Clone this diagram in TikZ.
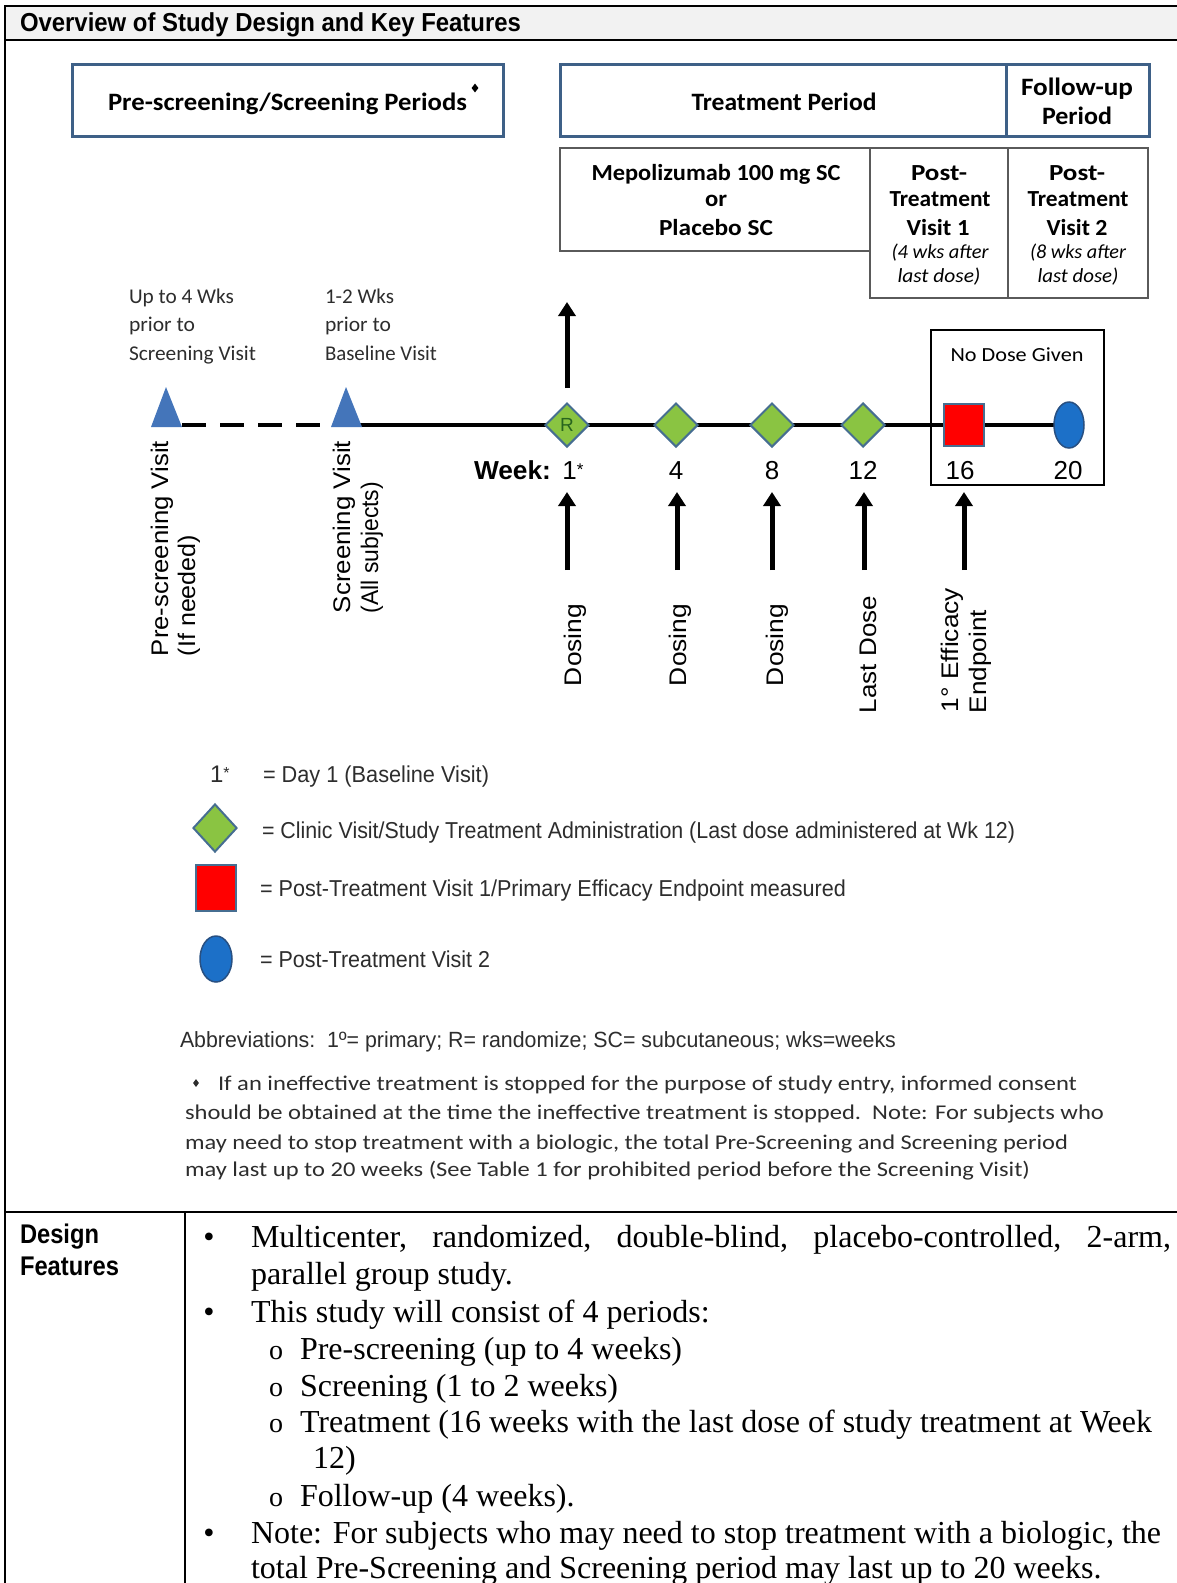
\documentclass[tikz,border=0pt]{standalone}
\usepackage{fontspec}
\usepackage{graphicx}
\usetikzlibrary{shapes.geometric,arrows.meta}
\setmainfont{Liberation Serif}
\newfontfamily\fA{Liberation Sans}
\newfontfamily\fC{Carlito}
\newfontfamily\fT{Liberation Serif}
\newcommand\fs[1]{\fontsize{#1}{#1}\selectfont}
\newsavebox\fitbox
\newlength\fitlen
\newcommand\fitw[2]{\sbox\fitbox{#2}\setlength\fitlen{\wd\fitbox}\pgfmathsetmacro\fitfac{#1/\fitlen}\scalebox{\fitfac}[1]{\usebox\fitbox}}
\definecolor{boxblue}{RGB}{62,96,135}
\definecolor{greyline}{RGB}{90,90,90}
\definecolor{dgreen}{RGB}{138,196,66}
\definecolor{dborder}{RGB}{70,110,145}
\definecolor{ellblue}{RGB}{28,112,200}
\definecolor{ellborder}{RGB}{40,80,130}
\definecolor{triblue}{RGB}{68,117,186}
\definecolor{titlegrey}{RGB}{242,242,242}
\definecolor{txtgrey}{RGB}{45,45,45}
\definecolor{rgreen}{RGB}{40,100,30}
\begin{document}
\begin{tikzpicture}[x=1pt,y=-1pt,
  txt/.style={inner sep=0pt, outer sep=0pt, anchor=base west},
  ctxt/.style={inner sep=0pt, outer sep=0pt, anchor=base},
  rtxt/.style={inner sep=0pt, outer sep=0pt, anchor=base west, rotate=90},
  bluebox/.style={rectangle, draw=boxblue, line width=3pt, inner sep=0pt},
  greybox/.style={rectangle, draw=greyline, line width=1.5pt, inner sep=0pt},
  visit/.style={diamond, draw=dborder, line width=2pt, fill=dgreen, inner sep=0pt, minimum width=44pt, minimum height=44pt},
  redsq/.style={rectangle, draw=dborder, line width=2pt, fill=red, inner sep=0pt},
  blueell/.style={ellipse, draw=ellborder, line width=1.5pt, fill=ellblue, inner sep=0pt},
  tri/.style={fill=triblue},
  bigarrow/.style={line width=5pt, -{Triangle[width=17pt,length=14pt]}},
  frame/.style={line width=2pt, black}
]
\useasboundingbox (0,0) rectangle (1177,1583);
\fill[white] (0,0) rectangle (1177,1583);
% frame
\fill[titlegrey] (5,6) rectangle (1177,40);
\draw[frame] (1177,6) -- (5,6) -- (5,1583);
\draw[frame] (5,40) -- (1177,40);
\draw[frame] (5,1212) -- (1177,1212);
\draw[frame] (185,1212) -- (185,1583);
\node[txt] (title) at (20,31) {\fitw{501}{\fA\bfseries\fs{26}Overview of Study Design and Key Features}};

% period boxes
\node[bluebox, minimum width=431pt, minimum height=72pt] (psbox) at (287.5,100) {};
\node[txt] (pstxt) at (108,110) {\fitw{359}{\fC\bfseries\fs{25}Pre-screening/Screening Periods}};
\node[diamond, fill=black, inner sep=0pt, minimum width=7pt, minimum height=9pt] (psdia) at (475,88) {};
\node[bluebox, minimum width=446pt, minimum height=72pt] (tpbox) at (783,100) {};
\node[ctxt] (tptxt) at (784,110) {\fitw{185}{\fC\bfseries\fs{25}Treatment Period}};
\node[bluebox, minimum width=143pt, minimum height=72pt] (fubox) at (1077.5,100) {};
\node[ctxt] (futxt1) at (1077,95) {\fitw{112}{\fC\bfseries\fs{25}Follow-up}};
\node[ctxt] (futxt2) at (1077,124) {\fitw{70}{\fC\bfseries\fs{25}Period}};

\node[greybox, minimum width=310pt, minimum height=103pt] (mepobox) at (715,199.5) {};
\node[ctxt] (mepo1) at (716,180) {\fitw{249}{\fC\bfseries\fs{23}Mepolizumab 100 mg SC}};
\node[ctxt] (mepo2) at (716,206) {\fitw{22}{\fC\bfseries\fs{23}or}};
\node[ctxt] (mepo3) at (716,235) {\fitw{114}{\fC\bfseries\fs{23}Placebo SC}};
\node[greybox, minimum width=138pt, minimum height=150pt] (ptv1box) at (939,223) {};
\node[ctxt] (ptv1a) at (939,180) {\fitw{56}{\fC\bfseries\fs{23}Post-}};
\node[ctxt] (ptv1b) at (940,206) {\fitw{101}{\fC\bfseries\fs{23}Treatment}};
\node[ctxt] (ptv1c) at (938,235) {\fitw{63}{\fC\bfseries\fs{23}Visit 1}};
\node[ctxt] (ptv1d) at (940,258) {\fitw{97}{\fC\itshape\fs{20}(4 wks after}};
\node[ctxt] (ptv1e) at (939,282) {\fitw{83}{\fC\itshape\fs{20}last dose)}};
\node[greybox, minimum width=140pt, minimum height=150pt] (ptv2box) at (1078,223) {};
\node[ctxt] (ptv2a) at (1077,180) {\fitw{56}{\fC\bfseries\fs{23}Post-}};
\node[ctxt] (ptv2b) at (1078,206) {\fitw{101}{\fC\bfseries\fs{23}Treatment}};
\node[ctxt] (ptv2c) at (1077,235) {\fitw{61}{\fC\bfseries\fs{23}Visit 2}};
\node[ctxt] (ptv2d) at (1078,258) {\fitw{96}{\fC\itshape\fs{20}(8 wks after}};
\node[ctxt] (ptv2e) at (1078,282) {\fitw{81}{\fC\itshape\fs{20}last dose)}};

% upper-left labels
\node[txt, text=txtgrey] (up1) at (129,303) {\fitw{105}{\fC\fs{21}Up to 4 Wks}};
\node[txt, text=txtgrey] (up2) at (129,331) {\fitw{66}{\fC\fs{21}prior to}};
\node[txt, text=txtgrey] (up3) at (129,360) {\fitw{127}{\fC\fs{21}Screening Visit}};
\node[txt, text=txtgrey] (wk1) at (325,303) {\fitw{69}{\fC\fs{21}1-2 Wks}};
\node[txt, text=txtgrey] (wk2) at (325,331) {\fitw{66}{\fC\fs{21}prior to}};
\node[txt, text=txtgrey] (wk3) at (325,360) {\fitw{112}{\fC\fs{21}Baseline Visit}};

% no dose box
\node[rectangle, draw=black, line width=1.5pt, minimum width=173pt, minimum height=155pt, inner sep=0pt] (nodose) at (1017.5,407.5) {};
\node[ctxt] (nodosetxt) at (1017,361) {\fitw{133}{\fC\fs{20}No Dose Given}};

% timeline
\coordinate (t1) at (182,425);
\coordinate (t2) at (334,425);
\coordinate (t3) at (1069,425);
\draw[line width=4pt, dash pattern=on 24pt off 14pt] (t1) -- (t2);
\draw[line width=4pt] (t2) -- (t3);
\fill[tri] (151,427) -- (166,387) -- (182,427) -- cycle;
\fill[tri] (331,427) -- (346,387) -- (362,427) -- cycle;
\node[visit] (d1) at (567,425) {\fA\fs{19}\textcolor{rgreen}{R}};
\node[visit] (d2) at (676,425) {};
\node[visit] (d3) at (772,425) {};
\node[visit] (d4) at (863,425) {};
\node[redsq, minimum width=40pt, minimum height=42pt] (sq) at (964,425) {};
\node[blueell, minimum width=30pt, minimum height=46pt] (el) at (1069,425) {};

% week labels
\node[txt] (weeklbl) at (474,479) {\fitw{77}{\fA\bfseries\fs{26}Week:}};
\node[ctxt] (w1) at (573,479) {\fA\fs{26}1\raisebox{4pt}{\fs{17}*}};
\node[ctxt] (w4) at (676,479) {\fA\fs{26}4};
\node[ctxt] (w8) at (772,479) {\fA\fs{26}8};
\node[ctxt] (w12) at (863,479) {\fA\fs{26}12};
\node[ctxt] (w16) at (960,479) {\fA\fs{26}16};
\node[ctxt] (w20) at (1068,479) {\fA\fs{26}20};

% arrows
\coordinate (uptip) at (567,302);
\draw[bigarrow, shorten <=14pt] (d1.north) -- (uptip);
\coordinate (a1s) at (567,570); \coordinate (a1e) at (567,492);
\coordinate (a2s) at (677,570); \coordinate (a2e) at (677,492);
\coordinate (a3s) at (772,570); \coordinate (a3e) at (772,492);
\coordinate (a4s) at (864,570); \coordinate (a4e) at (864,492);
\coordinate (a5s) at (964,570); \coordinate (a5e) at (964,492);
\draw[bigarrow] (a1s) -- (a1e);
\draw[bigarrow] (a2s) -- (a2e);
\draw[bigarrow] (a3s) -- (a3e);
\draw[bigarrow] (a4s) -- (a4e);
\draw[bigarrow] (a5s) -- (a5e);

% rotated labels
\node[rtxt] (pv1) at (168,656) {\fitw{215}{\fA\fs{24}Pre-screening Visit}};
\node[rtxt] (pv2) at (195,656) {\fitw{121}{\fA\fs{24}(If needed)}};
\node[rtxt] (sv1) at (350,613) {\fitw{172}{\fA\fs{24}Screening Visit}};
\node[rtxt] (sv2) at (378,613) {\fitw{131}{\fA\fs{24}(All subjects)}};
\node[rtxt] (dos1) at (581,686) {\fitw{82}{\fA\fs{24}Dosing}};
\node[rtxt] (dos2) at (686,686) {\fitw{82}{\fA\fs{24}Dosing}};
\node[rtxt] (dos3) at (783,686) {\fitw{82}{\fA\fs{24}Dosing}};
\node[rtxt] (lastd) at (876,713) {\fitw{117}{\fA\fs{24}Last Dose}};
\node[rtxt] (eff1) at (958,712) {\fitw{124}{\fA\fs{24}1° Efficacy}};
\node[rtxt] (eff2) at (986,713) {\fitw{103}{\fA\fs{24}Endpoint}};

% legend
\node[txt, text=txtgrey] (lg1a) at (210,782) {\fA\fs{24}1\raisebox{4pt}{\fs{16}*}};
\node[txt, text=txtgrey] (lg1b) at (263,782) {\fitw{226}{\fA\fs{23}= Day 1 (Baseline Visit)}};
\node[visit, minimum width=44pt, minimum height=48pt] (lgd) at (215,828) {};
\node[txt, text=txtgrey] (lg2) at (262,838) {\fitw{753}{\fA\fs{23}= Clinic Visit/Study Treatment Administration (Last dose administered at Wk 12)}};
\node[redsq, minimum width=40pt, minimum height=46pt] (lgsq) at (216,888) {};
\node[txt, text=txtgrey] (lg3) at (260,896) {\fitw{586}{\fA\fs{23}= Post-Treatment Visit 1/Primary Efficacy Endpoint measured}};
\node[blueell, minimum width=32pt, minimum height=46pt] (lgel) at (216,959) {};
\node[txt, text=txtgrey] (lg4) at (260,967) {\fitw{230}{\fA\fs{23}= Post-Treatment Visit 2}};
\node[txt, text=txtgrey] (abbr) at (180,1047) {\fitw{716}{\fA\fs{22}Abbreviations:\ \ 1º= primary; R= randomize; SC= subcutaneous; wks=weeks}};
\node[diamond, fill=txtgrey, inner sep=0pt, minimum width=6pt, minimum height=8pt] (fndia) at (196,1083) {};
\node[txt, text=txtgrey] (fn1) at (218,1090) {\fitw{859}{\fC\fs{21}If an ineffective treatment is stopped for the purpose of study entry, informed consent}};
\node[txt, text=txtgrey] (fn2) at (185,1119) {\fitw{919}{\fC\fs{21}should be obtained at the time the ineffective treatment is stopped.\ \ Note: For subjects who}};
\node[txt, text=txtgrey] (fn3) at (185,1149) {\fitw{883}{\fC\fs{21}may need to stop treatment with a biologic, the total Pre-Screening and Screening period}};
\node[txt, text=txtgrey] (fn4) at (185,1176) {\fitw{845}{\fC\fs{21}may last up to 20 weeks (See Table 1 for prohibited period before the Screening Visit)}};

% design features
\node[txt] (df1) at (20,1243) {\fitw{79}{\fA\bfseries\fs{27}Design}};
\node[txt] (df2) at (20,1275) {\fitw{99}{\fA\bfseries\fs{27}Features}};
\node[ctxt] (b1) at (209,1247) {\fT\fs{32}•};
\node[ctxt] (b2) at (209,1322) {\fT\fs{32}•};
\node[ctxt] (b3) at (209,1543) {\fT\fs{32}•};
\node[ctxt] (o1) at (276,1359) {\fT\fs{28}o};
\node[ctxt] (o2) at (276,1396) {\fT\fs{28}o};
\node[ctxt] (o3) at (276,1432) {\fT\fs{28}o};
\node[ctxt] (o4) at (276,1506) {\fT\fs{28}o};
\node[txt] (l1) at (251,1247) {\fT\fs{32}\makebox[920pt][s]{Multicenter, randomized, double-blind, placebo-controlled, 2-arm,}};
\node[txt] (l2) at (251,1284) {\fT\fs{32}parallel group study.};
\node[txt] (l3) at (251,1322) {\fT\fs{32}This study will consist of 4 periods:};
\node[txt] (l4) at (300,1359) {\fT\fs{32}Pre-screening (up to 4 weeks)};
\node[txt] (l5) at (300,1396) {\fT\fs{32}Screening (1 to 2 weeks)};
\node[txt] (l6) at (300,1432) {\fT\fs{32}Treatment (16 weeks with the last dose of study treatment at Week};
\node[txt] (l7) at (313,1468) {\fT\fs{32}12)};
\node[txt] (l8) at (300,1506) {\fT\fs{32}Follow-up (4 weeks).};
\node[txt] (l9) at (251,1543) {\fT\fs{32}Note: For subjects who may need to stop treatment with a biologic, the};
\node[txt] (l10) at (251,1578) {\fT\fs{32}total Pre-Screening and Screening period may last up to 20 weeks.};
\end{tikzpicture}
\end{document}
